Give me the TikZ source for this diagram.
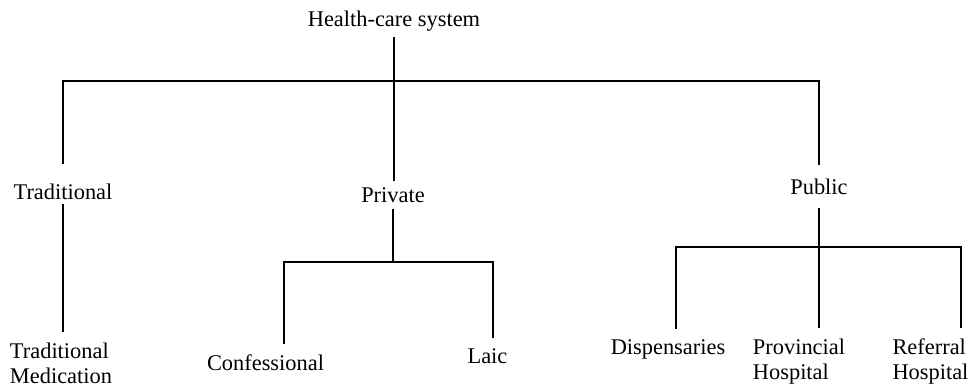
\documentclass[tikz,border=0pt]{standalone}
\usepackage{fontspec}
\setmainfont{Liberation Serif}
\usetikzlibrary{
  positioning,
  calc
}

\begin{document}
\begin{tikzpicture}[
      x=1pt, y=-1pt,
      lbl/.style={
        inner xsep=0pt, inner ysep=11pt, anchor=base, align=left,
        font=\fontsize{22.4}{25.5}\selectfont
      },
      link/.style={line width=1.3pt, line cap=rect}
    ]
      \useasboundingbox (0,0) rectangle (975,388);

      % root and main branches
      \node[lbl, inner ysep=6pt] (hcs) at (394,27) {Health-care system};
      \node[lbl, inner ysep=20pt] (trad) at (63,199) {Traditional};
      \node[lbl, inner ysep=7pt] (priv) at (393,202) {Private};
      \node[lbl, inner ysep=14pt] (pub) at (819,194) {Public};

      % leaves (two-line ones sit on their last baseline)
      \node[lbl] (tradmed) at (61,383.5) {Traditional\\Medication};
      \node[lbl] (conf) at (265.5,370) {Confessional};
      \node[lbl] (laic) at (487.5,363) {Laic};
      \node[lbl] (disp) at (668,354) {Dispensaries};
      \node[lbl] (prov) at (799,379.5) {Provincial\\Hospital};
      \node[lbl] (ref) at (930.5,379.5) {Referral\\Hospital};

      % bar junctions
      \coordinate (bar) at (394,81);
      \coordinate (pbarL) at (284,262);
      \coordinate (pbarR) at (493,262);
      \coordinate (ubarL) at (676,247);
      \coordinate (ubarR) at (961,247);

      \draw[link] (hcs.south) -- (hcs.south |- priv.north);
      \draw[link] (trad.north) |- (bar) -| (pub.north);
      \draw[link] ([yshift=-6pt]trad.base) -- (trad.base |- tradmed.north);

      \draw[link] (priv.south) -- (priv.south |- pbarL);
      \draw[link] (conf.north -| pbarL) |- (pbarR) -- (laic.north -| pbarR);

      \draw[link] (pub.south) -- (pub.south |- prov.north);
      \draw[link] (disp.north -| ubarL) |- (ubarR) -- (ref.north -| ubarR);
    \end{tikzpicture}
\end{document}
